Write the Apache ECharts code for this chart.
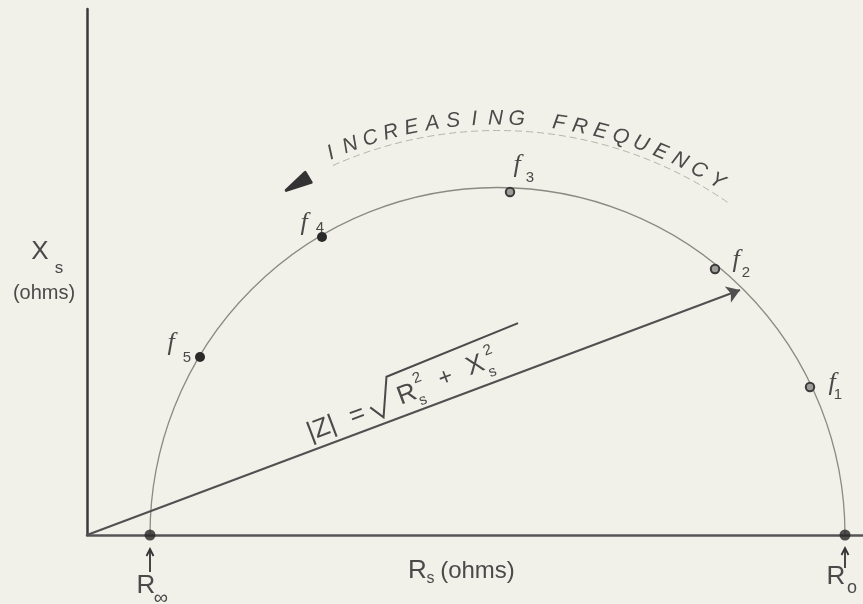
<!DOCTYPE html>
<html>
<head>
<meta charset="utf-8">
<script src="https://cdn.jsdelivr.net/npm/echarts@6/dist/echarts.min.js"></script>
<style>
  html, body { margin: 0; padding: 0; background: #f1f1e9; }
  #chart { width: 863px; height: 604px; }
</style>
</head>
<body>
<div id="chart"></div>
<script>
// Impedance locus: series reactance Xs against series resistance Rs (ohms)
const rInf = 63;                 // R∞, high-frequency intercept
const r0 = 758;                  // R0, low-frequency intercept
const freqNames = ['1', '2', '3', '4', '5'];
const freqR = [723, 628, 423, 235, 113];
const freqX = [148, 266, 343, 298, 178];
const zTip = [653, 245];         // end point of the |Z| vector
const axisMaxR = 776;
const axisMaxX = 526;
const captionText = 'INCREASING FREQUENCY';

// marker look per frequency point, and label offsets [fx, fy, subx, suby] in px
const freqMarker = ['ring', 'ring', 'ring', 'solid', 'solid'];
const freqLabelOffset = [
  [22, -4, 28, 8],
  [21, -9, 31, 4],
  [7, -27, 20, -14],
  [-18, -14, -2, -9],
  [-29, -14, -13, 1]
];

const INK = '#4a4a4a';
const SANS = '"Liberation Sans", "DejaVu Sans", sans-serif';
const SERIF = '"Liberation Serif", "DejaVu Serif", serif';

function txt(x, y, text, font, extra) {
  return Object.assign({
    type: 'text', x: x, y: y,
    style: {
      text: text, font: font, fill: INK,
      align: 'center', verticalAlign: 'middle',
      textAlign: 'center', textVerticalAlign: 'middle'
    }
  }, extra || {});
}

function upArrow(x, yTop, yBottom) {
  return [
    { type: 'line', shape: { x1: x, y1: yBottom, x2: x, y2: yTop },
      style: { stroke: '#333', lineWidth: 1.8 } },
    { type: 'polyline', shape: { points: [[x - 3.5, yTop + 7], [x, yTop], [x + 3.5, yTop + 7]] },
      style: { stroke: '#333', lineWidth: 1.8, fill: null } }
  ];
}

const freqData = freqR.map((r, i) => [r, freqX[i], i]);

const chart = echarts.init(document.getElementById('chart'));

chart.setOption({
  backgroundColor: '#f1f1e9',
  animation: false,
  grid: { left: 87, top: 9, width: 776, height: 526 },
  xAxis: {
    type: 'value', min: 0, max: axisMaxR,
    axisLine: { show: true, lineStyle: { color: '#555', width: 2.5 } },
    axisTick: { show: false }, axisLabel: { show: false }, splitLine: { show: false }
  },
  yAxis: {
    type: 'value', min: 0, max: axisMaxX,
    axisLine: { show: true, lineStyle: { color: '#3a3a3a', width: 2.5 } },
    axisTick: { show: false }, axisLabel: { show: false }, splitLine: { show: false }
  },
  series: [
    // semicircular locus between R∞ and R0
    {
      type: 'custom',
      data: [[rInf, r0]],
      renderItem: function (params, api) {
        const a = api.value(0), b = api.value(1);
        const c = api.coord([(a + b) / 2, 0]);
        const rad = api.size([(b - a) / 2, 0])[0];
        return {
          type: 'arc',
          shape: { cx: c[0], cy: c[1], r: rad, startAngle: Math.PI, endAngle: 2 * Math.PI, clockwise: true },
          style: { stroke: '#8a8a86', lineWidth: 1.3, fill: null }
        };
      },
      z: 2
    },
    // |Z| vector
    {
      type: 'lines',
      coordinateSystem: 'cartesian2d',
      data: [{ coords: [[0, 0], zTip] }],
      symbol: ['none', 'arrow'],
      symbolSize: 13,
      lineStyle: { color: '#505050', width: 2, opacity: 1 },
      z: 3
    },
    // R∞ and R0 intercepts
    {
      type: 'scatter',
      data: [[rInf, 0], [r0, 0]],
      symbolSize: 11,
      itemStyle: { color: '#262626' },
      z: 5
    },
    // frequency points f1..f5
    {
      type: 'custom',
      data: freqData,
      renderItem: function (params, api) {
        const p = api.coord([api.value(0), api.value(1)]);
        const i = api.value(2);
        const o = freqLabelOffset[i];
        const solid = freqMarker[i] === 'solid';
        return {
          type: 'group',
          children: [
            { type: 'circle', shape: { cx: p[0], cy: p[1], r: solid ? 5 : 4.2 },
              style: solid ? { fill: '#2a2a2a' } : { fill: '#9c9c98', stroke: '#3a3a3a', lineWidth: 2 } },
            txt(p[0] + o[0], p[1] + o[1], 'f', 'italic 26px ' + SERIF),
            txt(p[0] + o[2], p[1] + o[3], freqNames[i], '15px ' + SANS)
          ]
        };
      },
      z: 6
    },
    // axis titles, intercept labels, formula and caption
    {
      type: 'custom',
      data: [[0, 0]],
      renderItem: function (params, api) {
        const O = api.coord([0, 0]);
        const ri = api.coord([rInf, 0]);
        const ro = api.coord([r0, 0]);
        const M = api.coord([(rInf + r0) / 2, 0]);
        const rad = api.size([(r0 - rInf) / 2, 0])[0];
        const tip = api.coord(zTip);
        const ang = Math.atan2(O[1] - tip[1], tip[0] - O[0]);
        const kids = [];

        // vertical axis title
        kids.push(txt(O[0] - 47, O[1] - 283, 'X', '26px ' + SANS));
        kids.push(txt(O[0] - 28, O[1] - 267, 's', '17px ' + SANS));
        kids.push(txt(O[0] - 43, O[1] - 242, '(ohms)', '20px ' + SANS));

        // horizontal axis title
        kids.push(txt(M[0] - 80, O[1] + 36, 'R', '26px ' + SANS));
        kids.push(txt(M[0] - 67, O[1] + 44, 's', '16px ' + SANS));
        kids.push(txt(M[0] - 20, O[1] + 36, '(ohms)', '24px ' + SANS));

        // R∞ and R0 callouts
        upArrow(ri[0], ri[1] + 14, ri[1] + 37).forEach(k => kids.push(k));
        kids.push(txt(ri[0] - 4, ri[1] + 51, 'R', '26px ' + SANS));
        kids.push(txt(ri[0] + 11, ri[1] + 63, '\u221E', '20px ' + SANS));
        upArrow(ro[0], ro[1] + 13, ro[1] + 33).forEach(k => kids.push(k));
        kids.push(txt(ro[0] - 9, ro[1] + 42, 'R', '26px ' + SANS));
        kids.push(txt(ro[0] + 7, ro[1] + 53, 'o', '18px ' + SANS));

        // |Z| = sqrt(Rs^2 + Xs^2) written along the vector
        kids.push({
          type: 'group', x: O[0], y: O[1], rotation: ang,
          children: [
            txt(257, -17, '|Z|', '26px ' + SANS),
            txt(295, -17, '=', '26px ' + SANS),
            { type: 'polyline',
              shape: { points: [[310, -20], [319, -6], [336, -43], [478, -47]] },
              style: { stroke: INK, lineWidth: 2, fill: null } },
            txt(349, -19, 'R', '26px ' + SANS),
            txt(362, -8, 's', '15px ' + SANS),
            txt(364, -31, '2', '15px ' + SANS),
            txt(391, -21, '+', '24px ' + SANS),
            txt(423, -22, 'X', '26px ' + SANS),
            txt(437, -10, 's', '15px ' + SANS),
            txt(440, -32, '2', '15px ' + SANS)
          ]
        });

        // curved caption above the locus
        const Rt = rad + 69;
        const a0 = 113.6 * Math.PI / 180, a1 = 58.2 * Math.PI / 180;
        const n = captionText.length;
        for (let i = 0; i < n; i++) {
          const ch = captionText[i];
          if (ch === ' ') continue;
          const th = a0 + (a1 - a0) * i / (n - 1);
          kids.push(txt(M[0] + Rt * Math.cos(th), M[1] - Rt * Math.sin(th), ch,
            'italic 21px ' + SANS, { rotation: th - Math.PI / 2 }));
        }
        // faint guide arc under the caption
        kids.push({
          type: 'arc',
          shape: { cx: M[0], cy: M[1], r: rad + 57,
                   startAngle: -114 * Math.PI / 180, endAngle: -55 * Math.PI / 180, clockwise: true },
          style: { stroke: '#b4b4ae', lineWidth: 1, lineDash: [7, 4], fill: null }
        });
        // direction arrowhead
        const ta = 119.6 * Math.PI / 180, tr = rad + 58;
        const ax = M[0] + tr * Math.cos(ta), ay = M[1] - tr * Math.sin(ta);
        kids.push({
          type: 'polygon',
          shape: { points: [[ax + 8, ay - 10], [ax - 11, ay + 8], [ax + 14, ay]] },
          style: { fill: '#333', stroke: '#333', lineWidth: 3, lineJoin: 'round' }
        });

        return { type: 'group', children: kids };
      },
      z: 7
    }
  ]
});
</script>
</body>
</html>
